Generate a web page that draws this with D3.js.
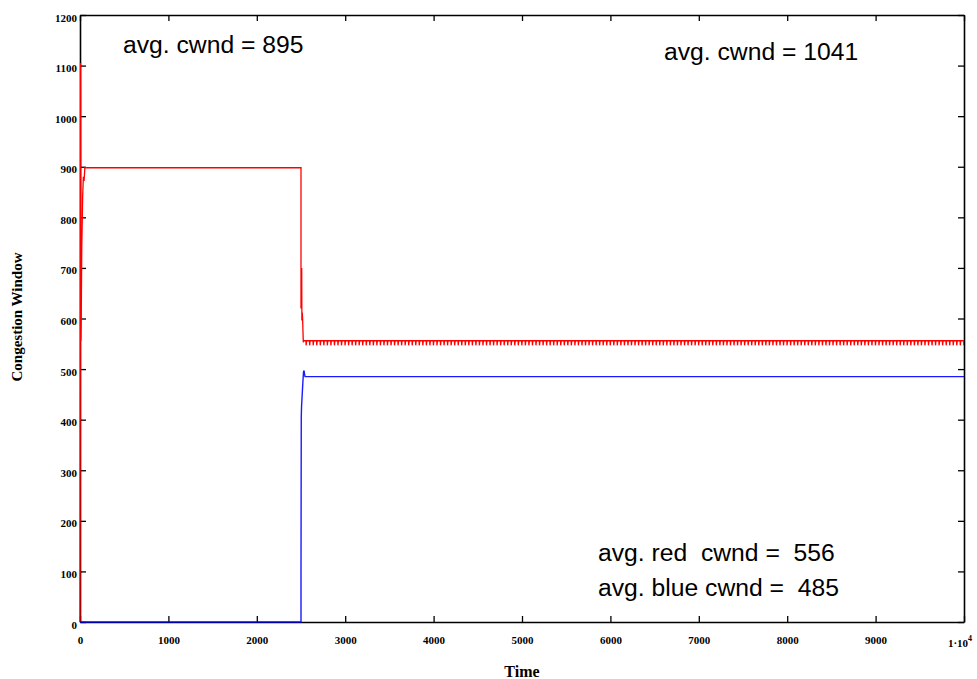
<!DOCTYPE html>
<html>
<head>
<meta charset="utf-8">
<script src="https://cdn.jsdelivr.net/npm/d3@7"></script>
<style>
  body { margin: 0; background: #fff; }
  svg { display: block; }
</style>
</head>
<body>
<div id="chart"></div>
<script>
// tick values
var xTicks = [0, 1000, 2000, 3000, 4000, 5000, 6000, 7000, 8000, 9000, 10000];
var yTicks = [0, 100, 200, 300, 400, 500, 600, 700, 800, 900, 1000, 1100, 1200];

// red flow: start-up and the drop at t=2500 (time, cwnd)
var redTime  = [0, 6, 10, 14, 20, 30, 38, 46, 55, 2500, 2500, 2508, 2510, 2514, 2518, 2526];
var redCwnd  = [0, 1105, 556, 600, 740, 840, 880, 872, 898, 898, 620, 700, 596, 612, 600, 553];
// red steady state: one period of the ripple
var rippleStart = 2530, rippleEnd = 10000, ripplePeriod = 40;
var rippleTime = [0, 26, 28, 31, 34];
var rippleCwnd = [556, 556, 547, 552, 556];

// blue flow
var blueTime = [0, 2500, 2500, 2503, 2506, 2520, 2528, 2534, 2545, 10000];
var blueCwnd = [0, 0, 100, 405, 425, 470, 494, 497, 485, 485];

var annotations = [
  { text: "avg. cwnd = 895", x: 123, y: 53 },
  { text: "avg. cwnd = 1041", x: 664, y: 60 },
  { text: "avg. red  cwnd =  556", x: 598, y: 561 },
  { text: "avg. blue cwnd =  485", x: 598, y: 596 }
];

var W = 977, H = 679;
var mLeft = 80, mRight = 964, mTop = 15, mBottom = 622;

var svg = d3.select("#chart").append("svg")
  .attr("width", W).attr("height", H);

var x = d3.scaleLinear().domain([0, 10000]).range([mLeft, mRight]);
var y = d3.scaleLinear().domain([0, 1200]).range([mBottom, mTop]);

// build red series
var redPts = redTime.map(function(t, i) { return [t, redCwnd[i]]; });
for (var t0 = rippleStart; t0 < rippleEnd; t0 += ripplePeriod) {
  rippleTime.forEach(function(dt, i) {
    if (t0 + dt <= rippleEnd) redPts.push([t0 + dt, rippleCwnd[i]]);
  });
}
redPts.push([rippleEnd, rippleCwnd[0]]);
var bluePts = blueTime.map(function(t, i) { return [t, blueCwnd[i]]; });

var line = d3.line().x(function(d) { return x(d[0]); }).y(function(d) { return y(d[1]); });

// axes: ticks on all four sides pointing inward
var tickFont = "'Liberation Serif', 'Times New Roman', serif";
function styleAxis(g) {
  g.select(".domain").attr("stroke", "#000").attr("stroke-width", 1.6);
  g.selectAll(".tick line").attr("stroke", "#000").attr("stroke-width", 1.3);
}

var xAxis = svg.append("g").attr("transform", "translate(0," + mBottom + ")")
  .call(d3.axisBottom(x).tickValues(xTicks).tickSizeInner(-6).tickSizeOuter(0).tickPadding(14)
    .tickFormat(function(d) { return d === 10000 ? "" : d; }))
  .call(styleAxis);
xAxis.selectAll("text").attr("font-family", tickFont).attr("font-weight", "bold").attr("font-size", 11).attr("fill", "#000");

// "1·10^4" label
var lastTick = svg.append("text").attr("x", x(10000) - 4).attr("y", mBottom + 25)
  .attr("text-anchor", "middle").attr("font-family", tickFont).attr("font-weight", "bold").attr("font-size", 11);
lastTick.append("tspan").text("1·10");
lastTick.append("tspan").attr("dy", -6).attr("font-size", 8).text("4");

svg.append("g").attr("transform", "translate(0," + mTop + ")")
  .call(d3.axisTop(x).tickValues(xTicks).tickSizeInner(-6).tickSizeOuter(0).tickFormat(""))
  .call(styleAxis);

var yAxis = svg.append("g").attr("transform", "translate(" + mLeft + ",0)")
  .call(d3.axisLeft(y).tickValues(yTicks).tickSizeInner(-6).tickSizeOuter(0).tickPadding(3)
    .tickFormat(d3.format("d")))
  .call(styleAxis);
yAxis.selectAll("text").attr("font-family", tickFont).attr("font-weight", "bold").attr("font-size", 11)
  .attr("fill", "#000").attr("dy", "0.55em");

svg.append("g").attr("transform", "translate(" + mRight + ",0)")
  .call(d3.axisRight(y).tickValues(yTicks).tickSizeInner(-6).tickSizeOuter(0).tickFormat(""))
  .call(styleAxis);

// data lines drawn over the frame, like the original
svg.append("clipPath").attr("id", "clip")
  .append("rect").attr("x", mLeft - 1).attr("y", mTop).attr("width", mRight - mLeft + 1).attr("height", mBottom - mTop + 2);

var plot = svg.append("g").attr("clip-path", "url(#clip)");
plot.append("path").datum(redPts).attr("d", line)
  .attr("fill", "none").attr("stroke", "#ff0000").attr("stroke-width", 1.3);
plot.append("path").datum(bluePts).attr("d", line)
  .attr("fill", "none").attr("stroke", "#0000ff").attr("stroke-width", 1.4).attr("stroke-opacity", 0.9);

// axis titles
svg.append("text").attr("x", 522).attr("y", 677)
  .attr("text-anchor", "middle").attr("font-family", tickFont).attr("font-weight", "bold").attr("font-size", 16)
  .text("Time");
svg.append("text").attr("transform", "translate(22,317) rotate(-90)")
  .attr("text-anchor", "middle").attr("font-family", tickFont).attr("font-weight", "bold").attr("font-size", 15)
  .text("Congestion Window");

// annotations
svg.selectAll(".note").data(annotations).enter().append("text")
  .attr("class", "note")
  .attr("x", function(d) { return d.x; }).attr("y", function(d) { return d.y; })
  .attr("font-family", "'Liberation Sans', Arial, sans-serif").attr("font-size", 24.7)
  .style("white-space", "pre")
  .text(function(d) { return d.text; });
</script>
</body>
</html>
